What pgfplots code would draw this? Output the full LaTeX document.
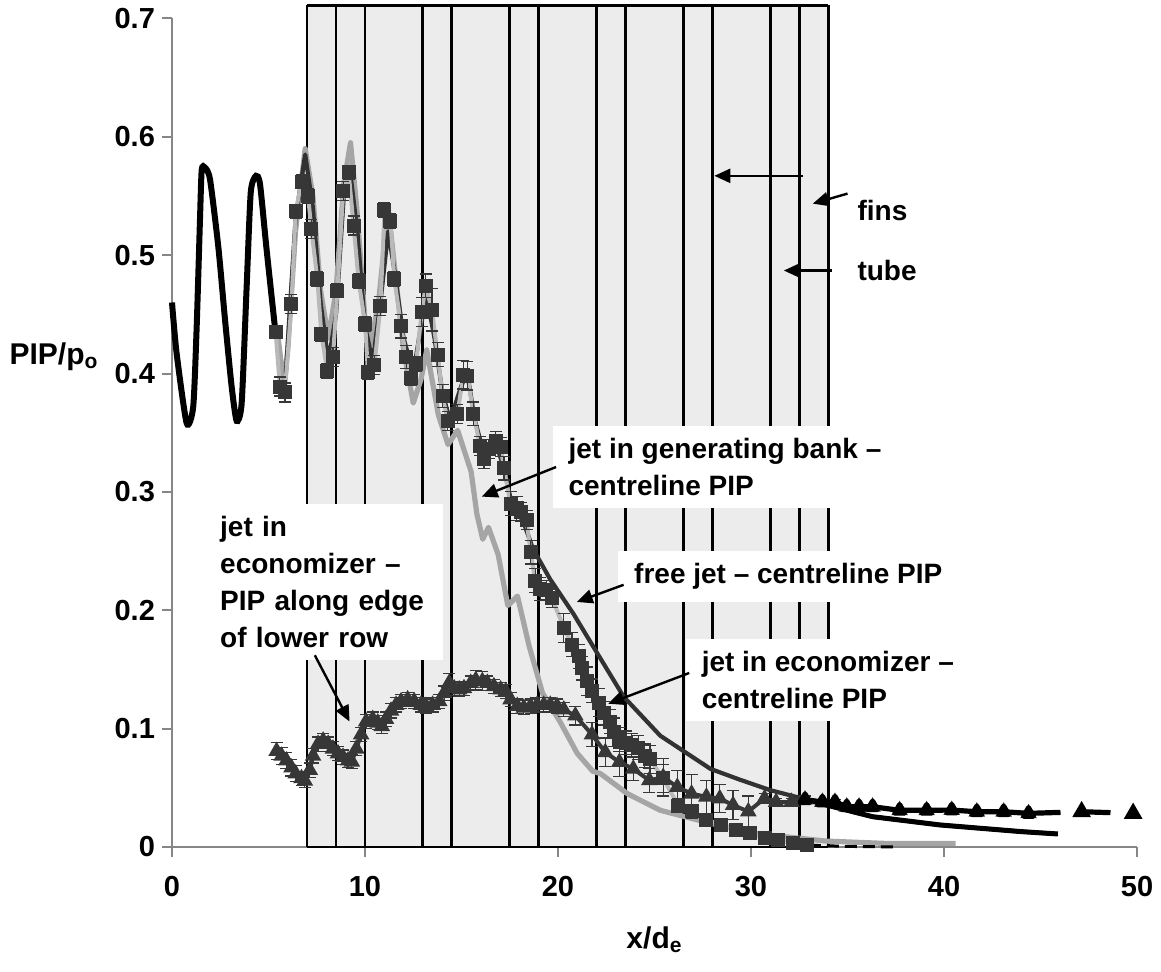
\documentclass[border=0pt]{standalone}
\usepackage{fontspec}
\setmainfont{Liberation Sans}
\usepackage{pgfplots}
\pgfplotsset{compat=1.18}
\usepackage{pgfplotstable}
\usetikzlibrary{arrows.meta}

\definecolor{band}{RGB}{236,236,236}
\definecolor{axgray}{RGB}{134,134,134}
\definecolor{genbank}{RGB}{165,165,165}
\definecolor{sqline}{RGB}{185,185,185}
\definecolor{freejet}{RGB}{50,50,50}
\definecolor{mk}{RGB}{55,55,55}

% jet in economizer - centreline PIP (squares)
\pgfplotstableread{
x y e
5.37 0.435 0.000
5.59 0.389 0.008
5.85 0.384 0.008
6.19 0.459 0.008
6.41 0.537 0.006
6.71 0.562 0.006
7.05 0.550 0.006
7.22 0.522 0.008
7.53 0.480 0.006
7.74 0.433 0.006
8.05 0.402 0.006
8.34 0.414 0.008
8.57 0.470 0.006
8.87 0.554 0.008
9.15 0.570 0.006
9.41 0.525 0.008
9.67 0.478 0.006
10.01 0.442 0.006
10.15 0.401 0.006
10.49 0.407 0.008
10.80 0.457 0.008
11.01 0.538 0.006
11.32 0.529 0.006
11.52 0.480 0.006
11.87 0.440 0.010
12.13 0.414 0.010
12.38 0.396 0.006
12.64 0.408 0.006
12.94 0.452 0.012
13.14 0.474 0.010
13.47 0.454 0.018
13.76 0.416 0.010
14.02 0.381 0.010
14.28 0.360 0.008
14.79 0.366 0.008
15.10 0.399 0.012
15.31 0.398 0.012
15.62 0.366 0.010
15.96 0.339 0.008
16.17 0.328 0.008
16.43 0.336 0.008
16.77 0.343 0.008
17.03 0.338 0.008
17.20 0.320 0.010
17.54 0.290 0.010
17.85 0.286 0.010
18.06 0.283 0.008
18.37 0.276 0.008
18.58 0.249 0.010
18.83 0.225 0.010
19.09 0.218 0.010
19.40 0.217 0.008
19.70 0.210 0.008
20.30 0.185 0.012
20.73 0.171 0.010
21.07 0.161 0.010
21.24 0.151 0.010
21.50 0.140 0.012
21.76 0.132 0.010
22.10 0.122 0.012
22.36 0.113 0.010
22.67 0.106 0.010
22.91 0.097 0.012
23.18 0.091 0.010
23.53 0.088 0.010
23.82 0.086 0.010
24.17 0.084 0.010
24.50 0.077 0.010
24.77 0.074 0.012
25.45 0.058 0.012
26.23 0.035 0.006
26.92 0.030 0.006
27.69 0.023 0.005
28.47 0.019 0.004
29.24 0.0145 0.004
29.93 0.012 0.003
30.70 0.0074 0.002
31.40 0.006 0.002
32.20 0.003 0.001
32.90 0.0017 0.001
}\econ

% jet in economizer - PIP along edge of lower row (triangles)
\pgfplotstableread{
x y e
5.42 0.081 0.007
5.68 0.077 0.007
5.93 0.073 0.007
6.19 0.067 0.007
6.41 0.062 0.007
6.71 0.058 0.006
6.88 0.056 0.006
7.14 0.065 0.006
7.31 0.077 0.006
7.57 0.087 0.006
7.83 0.0897 0.006
8.09 0.087 0.006
8.34 0.083 0.006
8.60 0.079 0.006
8.86 0.076 0.006
9.12 0.073 0.006
9.32 0.072 0.006
9.55 0.083 0.006
9.80 0.095 0.006
10.06 0.106 0.006
10.40 0.108 0.006
10.66 0.105 0.006
10.87 0.102 0.006
11.09 0.108 0.006
11.35 0.115 0.006
11.61 0.120 0.006
11.87 0.123 0.006
12.21 0.1246 0.006
12.55 0.123 0.006
12.90 0.120 0.006
13.16 0.119 0.006
13.50 0.120 0.006
13.85 0.123 0.006
14.10 0.130 0.006
14.36 0.1385 0.008
14.62 0.134 0.006
14.88 0.133 0.006
15.13 0.134 0.006
15.48 0.1385 0.006
15.74 0.141 0.008
16.08 0.140 0.008
16.34 0.1385 0.006
16.68 0.1357 0.006
17.03 0.133 0.006
17.29 0.1315 0.006
17.54 0.1246 0.006
17.89 0.119 0.006
18.23 0.1176 0.006
18.58 0.119 0.006
18.92 0.120 0.006
19.26 0.120 0.006
19.60 0.120 0.006
19.95 0.119 0.006
20.30 0.116 0.006
20.90 0.111 0.008
21.76 0.095 0.010
22.45 0.080 0.012
23.18 0.0717 0.012
23.90 0.066 0.010
24.73 0.0563 0.010
25.45 0.059 0.016
26.18 0.0507 0.014
26.92 0.045 0.016
27.69 0.0424 0.014
28.38 0.041 0.012
29.07 0.0354 0.012
29.86 0.030 0.013
30.70 0.041 0.004
31.30 0.038 0.003
32.10 0.038 0.003
32.80 0.040 0.003
33.70 0.038 0.002
34.35 0.038 0.002
34.96 0.034 0.000
35.60 0.034 0.000
36.30 0.034 0.000
37.70 0.031 0.000
39.10 0.031 0.000
40.40 0.0312 0.000
41.70 0.0298 0.000
43.09 0.0298 0.000
44.38 0.0284 0.000
}\edge

\begin{document}
\begin{tikzpicture}
\begin{axis}[
  name=ax, at={(0,0)}, anchor=south west,
  scale only axis, width=482.5pt, height=414.3pt,
  xmin=0, xmax=50, ymin=0, ymax=0.7,
  axis x line*=bottom, axis y line*=left,
  axis line style={axgray, line width=1pt},
  xtick={0,10,20,30,40,50},
  ytick={0,0.1,0.2,0.3,0.4,0.5,0.6,0.7},
  tick style={axgray, line width=1pt},
  major tick length=5pt, tick align=outside,
  tick label style={font=\fontsize{14.5}{16}\selectfont\bfseries},
  /pgf/number format/assume math mode=true,
  xticklabel style={yshift=-6pt},
  xlabel={x/d\textsubscript{e}},
  ylabel={PIP/p\textsubscript{o}},
  every axis x label/.style={at={(axis description cs:0.5,0)}, anchor=center, yshift=-46.5pt, font=\fontsize{15}{17}\selectfont\bfseries},
  every axis y label/.style={at={(axis description cs:0,0.592)}, anchor=center, xshift=-59pt, font=\fontsize{15}{17}\selectfont\bfseries},
  clip=false,
]
% tube and fin bands
\addplot[fill=band, draw=none] coordinates {(7,0.711) (34,0.711)} \closedcycle;
\addplot[ycomb, black, line width=1.4pt] coordinates {
  (7,0.711) (8.5,0.711) (10,0.711) (13,0.711) (14.5,0.711) (17.5,0.711) (19,0.711)
  (22,0.711) (23.5,0.711) (26.5,0.711) (28,0.711) (31,0.711) (32.5,0.711) (34,0.711)};
\addplot[black, line width=1.4pt] coordinates {(7,0.711) (34,0.711)};
\addplot[black, line width=1.4pt] coordinates {(7,0) (34,0)};

% jet in generating bank - centreline PIP
\addplot[genbank, line width=2.6pt, line join=round] coordinates {
  (5.5,0.43) (5.8,0.39) (6.0,0.42) (6.4,0.52) (6.9,0.59) (7.3,0.55) (7.7,0.47)
  (8.1,0.43) (8.5,0.47) (8.9,0.56) (9.25,0.595) (9.6,0.535) (10.0,0.445) (10.3,0.425)
  (10.7,0.46) (11.2,0.54) (11.6,0.48) (12.0,0.42) (12.5,0.375) (12.9,0.395) (13.2,0.42)
  (13.8,0.365) (14.3,0.34) (14.8,0.352) (15.5,0.317) (15.8,0.281) (16.1,0.26) (16.4,0.27)
  (16.9,0.247) (17.4,0.204) (17.9,0.212) (18.5,0.17) (19.2,0.13) (20.1,0.106) (21.0,0.079)
  (21.8,0.064) (22.2,0.062) (23.6,0.045) (25.3,0.031) (27.9,0.02) (30.4,0.011) (33.9,0.005)
  (37,0.003) (40.6,0.003)};

% free jet - centreline PIP
\addplot[freejet, line width=2.1pt, line join=round] coordinates {
  (5.9,0.40) (6.4,0.53) (6.9,0.585) (7.3,0.54) (7.7,0.46) (8.1,0.41) (8.5,0.45) (8.9,0.55)
  (9.2,0.575) (9.6,0.52) (10.0,0.44) (10.4,0.41) (10.8,0.46) (11.2,0.52) (11.5,0.49)
  (12.0,0.43) (12.5,0.40) (13.0,0.45) (13.2,0.465) (13.6,0.43) (14.0,0.385) (14.4,0.36)
  (15.0,0.39) (15.3,0.40) (15.7,0.36) (16.2,0.33) (16.7,0.345) (17.2,0.32) (17.6,0.29)
  (18.2,0.275) (18.7,0.252) (19.6,0.226) (20.8,0.197) (21.8,0.17) (23.4,0.127) (25.3,0.094)
  (27.9,0.066) (29.4,0.057) (31.0,0.048) (32.9,0.040) (33.9,0.0355) (36.3,0.0256)
  (39.8,0.0186) (44.0,0.013) (45.9,0.011)};
\addplot[black, line width=2.5pt, line join=round] coordinates {
  (32.9,0.040) (33.9,0.0355) (36.3,0.0256) (39.8,0.0186) (44.0,0.013) (45.9,0.011)};

% squares with error bars
\addplot[sqline, line width=2pt, mark=square*, mark size=2.5pt,
  mark options={fill=mk, draw=mk, solid},
  error bars/.cd, y dir=both, y explicit,
  error bar style={mk, line width=0.6pt},
  error mark options={rotate=90, mk, mark size=3pt, line width=0.6pt}]
  table[x=x, y=y, y error=e] {\econ};
\addplot[black, line width=1.5pt, dash pattern=on 6pt off 3pt] coordinates {
  (33.0,0.0015) (35.0,0.0005) (37.5,0.0)};

% triangles with error bars
\addplot[mk, line width=2pt, mark=triangle*, mark size=2.8pt,
  mark options={fill=mk, draw=mk, solid},
  error bars/.cd, y dir=both, y explicit,
  error bar style={mk, line width=0.6pt},
  error mark options={rotate=90, mk, mark size=3pt, line width=0.6pt}]
  table[x=x, y=y, y error=e] {\edge};
\addplot[black, line width=2.6pt, line join=round, mark=triangle*, mark size=2.8pt,
  mark options={fill=black, solid}, restrict x to domain=32.7:44.5]
  table[x=x, y=y] {\edge};
\addplot[black, line width=2.6pt, dash pattern=on 16pt off 9pt, mark=triangle*, mark size=2.8pt,
  mark options={fill=black, solid}, mark indices={2,3}] coordinates {
  (44.38,0.0284) (47.13,0.0298) (49.8,0.0284)};

% free jet near field
\addplot[black, line width=3pt, smooth, tension=0.4] coordinates {
  (0,0.46) (0.24,0.417) (0.76,0.358) (1.1,0.372) (1.28,0.44) (1.45,0.53) (1.54,0.572)
  (1.71,0.574) (1.97,0.564) (2.4,0.507) (2.75,0.445) (3.09,0.389) (3.35,0.36) (3.61,0.375)
  (3.87,0.474) (4.08,0.553) (4.35,0.567) (4.56,0.56) (4.9,0.505) (5.34,0.438)};

% labels
\tikzset{lbl/.style={fill=white, align=left, inner xsep=8pt, inner ysep=6pt,
  font=\fontsize{14}{18.5}\selectfont\bfseries},
  arr/.style={black, line width=1.2pt, -{Triangle[length=8pt, width=7pt]}}}
\node[lbl, anchor=north west] at (axis cs:19.7,0.356) {jet in generating bank –\\centreline PIP};
\node[lbl, anchor=south west] at (axis cs:23.1,0.207) {free jet – centreline PIP};
\node[lbl, anchor=north west] at (axis cs:26.6,0.176) {jet in economizer –\\centreline PIP};
\node[lbl, anchor=south west, text width=104pt, inner xsep=7.5pt] at (axis cs:1.7,0.158)
  {jet in\\economizer –\\PIP along edge\\of lower row};
\node[anchor=west, inner sep=0pt, font=\fontsize{14}{16}\selectfont\bfseries] at (axis cs:35.5,0.538) {fins};
\node[anchor=west, inner sep=0pt, font=\fontsize{14}{16}\selectfont\bfseries] at (axis cs:35.5,0.487) {tube};
\draw[arr] (axis cs:19.9,0.321) -- (axis cs:16.05,0.296);
\draw[arr] (axis cs:23.4,0.2215) -- (axis cs:20.97,0.207);
\draw[arr] (axis cs:26.8,0.147) -- (axis cs:22.6,0.121);
\draw[arr] (axis cs:7.4,0.162) -- (axis cs:9.2,0.106);
\draw[arr] (axis cs:32.7,0.567) -- (axis cs:28.1,0.567);
\draw[arr] (axis cs:35.0,0.552) -- (axis cs:33.2,0.5435);
\draw[arr] (axis cs:34.2,0.487) -- (axis cs:31.7,0.487);
\end{axis}
\pgfresetboundingbox
\path[use as bounding box] ([shift={(-86pt,-62.5pt)}]ax.south west) rectangle ([shift={(494.5pt,423.5pt)}]ax.south west);
\end{tikzpicture}
\end{document}
